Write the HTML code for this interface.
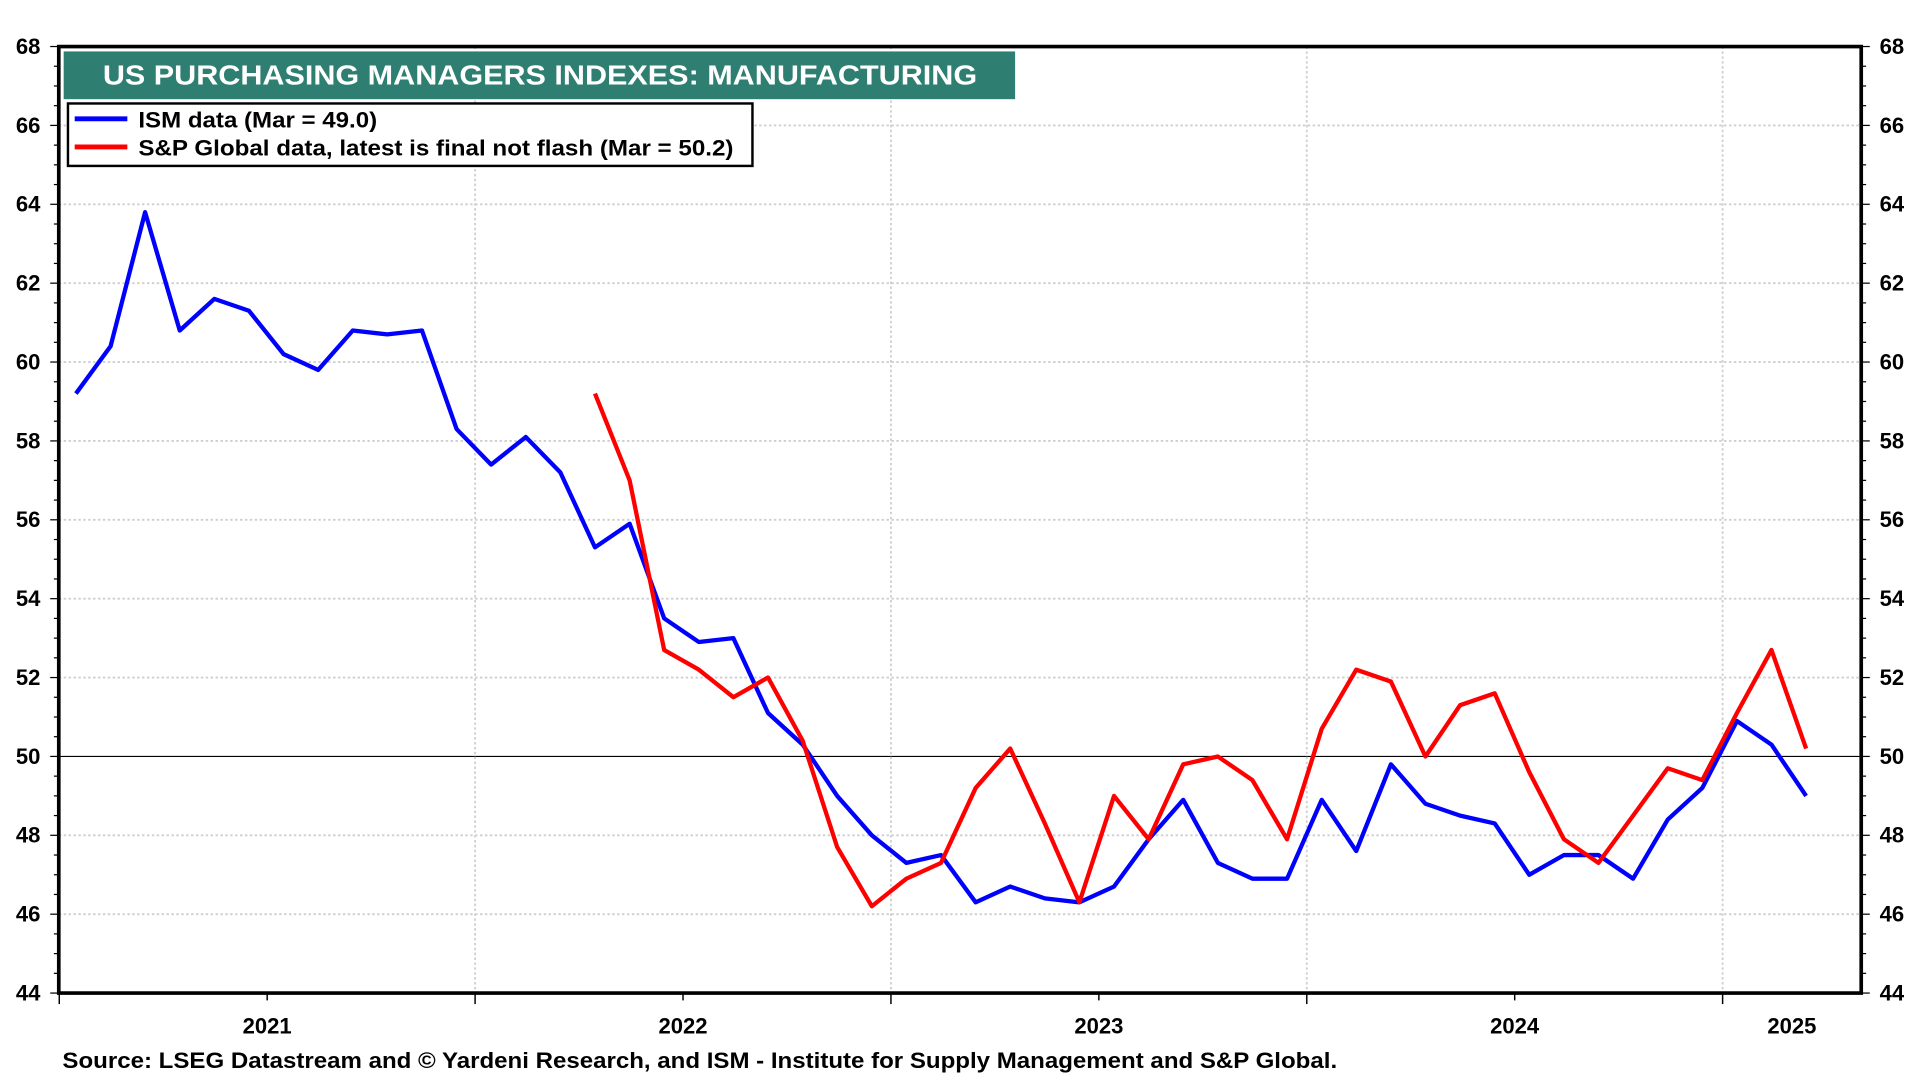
<!DOCTYPE html>
<html><head><meta charset="utf-8"><style>
html,body{margin:0;padding:0;background:#fff;}
svg{display:block;}
text{font-family:"Liberation Sans Narrow","Liberation Sans",sans-serif;font-weight:bold;fill:#000;}
</style></head><body>
<svg id="chart" width="1920" height="1080" viewBox="0 0 1568 882" preserveAspectRatio="none" xmlns="http://www.w3.org/2000/svg">
<g id="grid"></g>
<g id="axes"></g>
<g id="series"></g>
<rect x="52" y="42" width="777" height="39" fill="#2e7f72"/>
<text x="84" y="69" font-size="23" style="fill:#fff" textLength="714" lengthAdjust="spacingAndGlyphs">US PURCHASING MANAGERS INDEXES: MANUFACTURING</text>
<g>
<rect x="55.5" y="84.5" width="559" height="51" fill="#fff" stroke="#000" stroke-width="2"/>
<line x1="61" y1="97" x2="104" y2="97" stroke="#0000ff" stroke-width="4"/>
<text x="113" y="104" font-size="18" textLength="195" lengthAdjust="spacingAndGlyphs">ISM data (Mar = 49.0)</text>
<line x1="61" y1="120" x2="104" y2="120" stroke="#ff0000" stroke-width="4"/>
<text x="113" y="127" font-size="18" textLength="486" lengthAdjust="spacingAndGlyphs">S&amp;P Global data, latest is final not flash (Mar = 50.2)</text>
</g>
<text x="51" y="872" font-size="18" textLength="1041" lengthAdjust="spacingAndGlyphs">Source: LSEG Datastream and © Yardeni Research, and ISM - Institute for Supply Management and S&amp;P Global.</text>
</svg>
<script>
const years = ["2021","2022","2023","2024","2025"];
const yTicks = [44,46,48,50,52,54,56,58,60,62,64,66,68];
const ismValues = [59.2,60.4,63.8,60.8,61.6,61.3,60.2,59.8,60.8,60.7,60.8,58.3,57.4,58.1,57.2,55.3,55.9,53.5,52.9,53.0,51.1,50.3,49.0,48.0,47.3,47.5,46.3,46.7,46.4,46.3,46.7,47.9,48.9,47.3,46.9,46.9,48.9,47.6,49.8,48.8,48.5,48.3,47.0,47.5,47.5,46.9,48.4,49.2,50.9,50.3,49.0];
const spStart = 15;
const spValues = [59.2,57.0,52.7,52.2,51.5,52.0,50.4,47.7,46.2,46.9,47.3,49.2,50.2,48.3,46.3,49.0,47.9,49.8,50.0,49.4,47.9,50.7,52.2,51.9,50.0,51.3,51.6,49.6,47.9,47.3,48.5,49.7,49.4,51.1,52.7,50.2];

const L=48,R=1520,T=38,B=811,YMIN=44,YMAX=68;
const JAN21=48.4, YEARW=339.6;
const y=v=>B-(v-YMIN)/(YMAX-YMIN)*(B-T);
const x=i=>62+i*28.26;
const NS="http://www.w3.org/2000/svg";
function mk(tag,attrs,parent,txt){const e=document.createElementNS(NS,tag);for(const k in attrs)e.setAttribute(k,attrs[k]);if(txt!==undefined)e.textContent=txt;parent.appendChild(e);return e;}
const grid=document.getElementById('grid'),axes=document.getElementById('axes'),series=document.getElementById('series');

yTicks.forEach(v=>{
  if(v>YMIN&&v<YMAX&&v!==50){const g=mk('line',{x1:L,x2:R,y1:y(v),y2:y(v),stroke:'#cfcfcf','stroke-width':1.5,'stroke-dasharray':'2 2'},grid);
  
  }
  const t1=mk('text',{x:33,y:y(v)+6,'font-size':18,'text-anchor':'end'},axes,String(v));
  
  
  const t2=mk('text',{x:1535,y:y(v)+6,'font-size':18},axes,String(v));
  
  
});
for(let v=YMIN;v<=YMAX;v+=0.5){
  const big=(v%2===0);
  const a=mk('line',{x1:L-(big?7:4),x2:L,y1:y(v),y2:y(v),stroke:'#000','stroke-width':1},axes);
  
  
  const b=mk('line',{x1:R,x2:R+(big?7:4),y1:y(v),y2:y(v),stroke:'#000','stroke-width':1},axes);
  
  
}
const zl=mk('line',{x1:L,x2:R,y1:y(50),y2:y(50),stroke:'#000','stroke-width':1},grid);



years.forEach((yr,k)=>{
  const x0=JAN21+k*YEARW;
  if(k>0){const g=mk('line',{x1:x0,x2:x0,y1:T,y2:B,stroke:'#cfcfcf','stroke-width':1.5,'stroke-dasharray':'2 2'},grid);
  
  }
  [0,0.5].forEach(f=>{const xx=x0+f*YEARW;if(xx>=L&&xx<=R){const tk=mk('line',{x1:xx,x2:xx,y1:B,y2:B+(f===0?9:6),stroke:'#000','stroke-width':1.2},axes);
  
  }});
  const cx=(Math.max(x0,L)+Math.min(x0+YEARW,R))/2;
  const t=mk('text',{x:cx,y:B+33,'font-size':18,'text-anchor':'middle'},axes,yr);
  
  
});
const fr=mk('path',{d:`M${L},${T}H${R}V${B}H${L}Z`,fill:'none',stroke:'#000','stroke-width':3},axes);



const ismPts=ismValues.map((v,i)=>x(i).toFixed(1)+','+y(v).toFixed(1)).join(' ');
const p1=mk('polyline',{points:ismPts,fill:'none',stroke:'#0000ff','stroke-width':3.5,'stroke-linejoin':'round'},series);


const spPts=spValues.map((v,i)=>x(i+spStart).toFixed(1)+','+y(v).toFixed(1)).join(' ');
const p2=mk('polyline',{points:spPts,fill:'none',stroke:'#ff0000','stroke-width':3.5,'stroke-linejoin':'round'},series);


</script>
</body></html>
